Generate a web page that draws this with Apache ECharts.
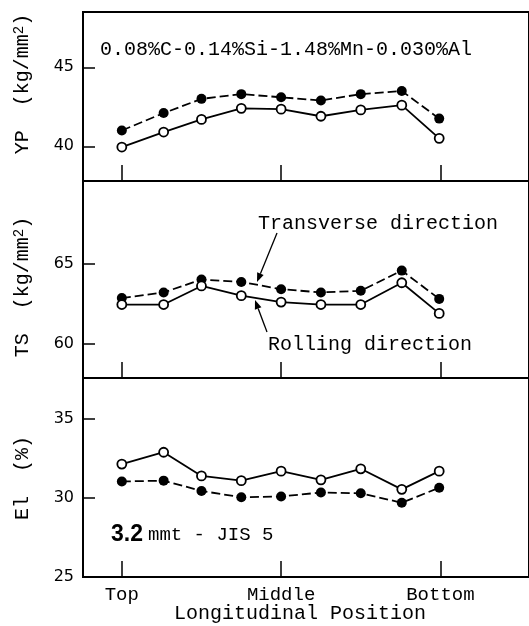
<!DOCTYPE html>
<html>
<head>
<meta charset="utf-8">
<script src="https://cdn.jsdelivr.net/npm/echarts@6/dist/echarts.min.js"></script>
<style>html,body{margin:0;padding:0;background:#fff;}#c{width:529px;height:626px;}</style>
</head>
<body>
<div id="c"></div>
<script>
// Longitudinal positions (Top = 0, Middle = 4, Bottom = 8)
var positions = [0, 1.05, 2, 3, 4, 5, 6, 7.03, 7.97];
var xTickPositions = [0, 4, 8];
var xTickLabels = ['Top', 'Middle', 'Bottom'];

var ypTransverse = [41.0, 42.1, 43.0, 43.3, 43.1, 42.9, 43.3, 43.5, 41.75];
var ypRolling    = [39.95, 40.9, 41.7, 42.4, 42.35, 41.9, 42.3, 42.6, 40.5];
var tsTransverse = [62.85, 63.2, 64.0, 63.85, 63.4, 63.2, 63.3, 64.55, 62.8];
var tsRolling    = [62.45, 62.45, 63.6, 63.0, 62.6, 62.45, 62.45, 63.8, 61.9];
var elTransverse = [31.05, 31.1, 30.45, 30.05, 30.1, 30.35, 30.3, 29.7, 30.65];
var elRolling    = [32.15, 32.9, 31.4, 31.1, 31.7, 31.15, 31.85, 30.55, 31.7];

var ypTicks = [40, 45];
var tsTicks = [60, 65];
var elTicks = [25, 30, 35];

var mono = 'Liberation Mono';
function pairs(xs, ys) { return xs.map(function (x, i) { return [x, ys[i]]; }); }

var grids = [
  {left: 83, width: 448, top: 12, height: 169},
  {left: 83, width: 448, top: 181, height: 197},
  {left: 83, width: 448, top: 378, height: 199}
].map(function (g) { return Object.assign({show: true, borderColor: '#000', borderWidth: 2, backgroundColor: 'transparent'}, g); });

function xAx(i, showLabels) {
  return {
    type: 'value', gridIndex: i, min: -0.975, max: 10.225,
    axisLine: {show: false, onZero: false},
    splitLine: {show: false},
    axisTick: {show: true, inside: true, length: 16, customValues: xTickPositions, lineStyle: {color: '#000', width: 1.5}},
    axisLabel: {show: showLabels, customValues: xTickPositions, margin: 8,
      fontFamily: mono, fontSize: 19, color: '#000',
      formatter: function (v) { var k = xTickPositions.indexOf(v); return k >= 0 ? xTickLabels[k] : ''; }}
  };
}
function yAx(i, min, max, ticks) {
  return {
    type: 'value', gridIndex: i, min: min, max: max,
    axisLine: {show: false, onZero: false},
    splitLine: {show: false},
    axisTick: {show: true, inside: true, length: 12, customValues: ticks, lineStyle: {color: '#000', width: 1.5}},
    axisLabel: {customValues: ticks, margin: 9, fontFamily: 'DejaVu Sans', fontSize: 16, color: '#000'}
  };
}

function lineSeries(i, ys, filled) {
  return {
    type: 'line', xAxisIndex: i, yAxisIndex: i,
    data: pairs(positions, ys),
    symbol: 'circle', symbolSize: filled ? 10 : 9,
    lineStyle: {color: '#000', width: 1.8, type: filled ? [9, 4] : 'solid'},
    itemStyle: {color: filled ? '#000' : '#fff', borderColor: '#000', borderWidth: filled ? 0 : 1.8},
    z: filled ? 3 : 4,
    animation: false
  };
}

function arrow(x1, y1, x2, y2) {
  var ang = Math.atan2(y2 - y1, x2 - x1);
  var L = 9, W = 3.5;
  var bx = x2 - L * Math.cos(ang), by = y2 - L * Math.sin(ang);
  var px = -Math.sin(ang) * W, py = Math.cos(ang) * W;
  return [
    {type: 'line', shape: {x1: x1, y1: y1, x2: bx, y2: by}, style: {stroke: '#000', lineWidth: 1.3}},
    {type: 'polygon', shape: {points: [[x2, y2], [bx + px, by + py], [bx - px, by - py]]}, style: {fill: '#000'}}
  ];
}

var chart = echarts.init(document.getElementById('c'), null, {renderer: 'canvas'});
chart.setOption({
  animation: false,
  backgroundColor: '#fff',
  grid: grids,
  xAxis: [xAx(0, false), xAx(1, false), xAx(2, true)],
  yAxis: [yAx(0, 37.8, 48.5, ypTicks), yAx(1, 57.9, 70.1, tsTicks), yAx(2, 25, 37.6, elTicks)],
  series: [
    lineSeries(0, ypTransverse, true), lineSeries(0, ypRolling, false),
    lineSeries(1, tsTransverse, true), lineSeries(1, tsRolling, false),
    lineSeries(2, elTransverse, true), lineSeries(2, elRolling, false)
  ],
  graphic: [
    {type: 'text', x: 100, y: 50, style: {text: '0.08%C-0.14%Si-1.48%Mn-0.030%Al', font: '20px "Liberation Mono"', fill: '#000', verticalAlign: 'middle'}},
    {type: 'text', x: 258, y: 224, style: {text: 'Transverse direction', font: '20px "Liberation Mono"', fill: '#000', verticalAlign: 'middle'}},
    {type: 'text', x: 268, y: 345, style: {text: 'Rolling direction', font: '20px "Liberation Mono"', fill: '#000', verticalAlign: 'middle'}},
    {type: 'text', x: 111, y: 535, style: {text: '{b|3.2}{m|mmt - JIS 5}', verticalAlign: 'middle',
      rich: {b: {font: 'bold 23px "Liberation Sans"', fill: '#000', padding: [0, 5, 0, 0]}, m: {font: '19px "Liberation Mono"', fill: '#000'}}}},
    {type: 'text', x: 300, y: 614, style: {text: 'Longitudinal Position', font: '20px "Liberation Mono"', fill: '#000', align: 'center', verticalAlign: 'middle'}},
    {type: 'text', x: 23, y: 84, rotation: Math.PI / 2, style: {text: '{a|YP  (kg/mm}{s|2}{a|)}', align: 'center', verticalAlign: 'middle',
      rich: {a: {font: '20px "Liberation Mono"', fill: '#000'}, s: {font: '14px "Liberation Mono"', fill: '#000', verticalAlign: 'top', padding: [0, 0, 8, 0]}}}},
    {type: 'text', x: 23, y: 287, rotation: Math.PI / 2, style: {text: '{a|TS  (kg/mm}{s|2}{a|)}', align: 'center', verticalAlign: 'middle',
      rich: {a: {font: '20px "Liberation Mono"', fill: '#000'}, s: {font: '14px "Liberation Mono"', fill: '#000', verticalAlign: 'top', padding: [0, 0, 8, 0]}}}},
    {type: 'text', x: 23, y: 478, rotation: Math.PI / 2, style: {text: 'El  (%)', font: '20px "Liberation Mono"', fill: '#000', align: 'center', verticalAlign: 'middle'}}
  ].concat(arrow(277, 233, 257, 282)).concat(arrow(267, 332, 255, 300))
});
</script>
</body>
</html>
